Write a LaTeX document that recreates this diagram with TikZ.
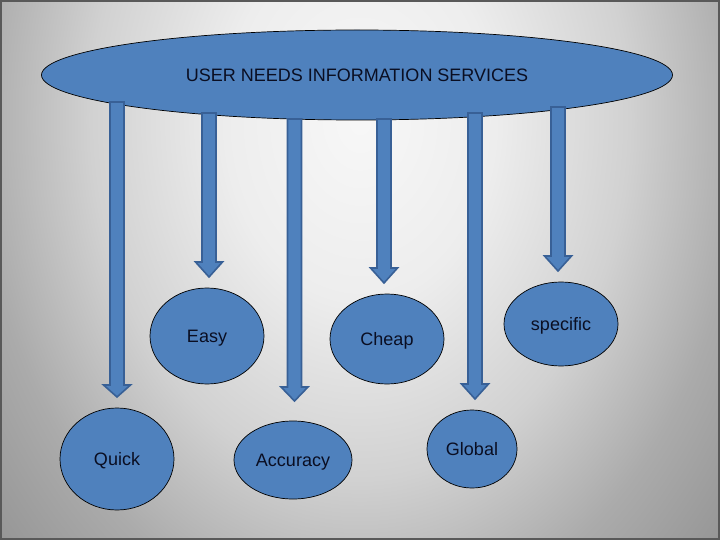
\documentclass[tikz,border=0pt]{standalone}
\usepackage{fontspec}
\setmainfont{Liberation Sans}
\usetikzlibrary{shapes.geometric}
\definecolor{boxblue}{RGB}{79,129,189}
\definecolor{edgeblue}{RGB}{56,96,150}
\definecolor{inktext}{RGB}{10,14,34}
\pgfdeclareradialshading{bgshade}{\pgfpoint{0bp}{0bp}}{%
  color(0bp)=(white!97!black);
  color(6.8bp)=(white!93!black);
  color(13.6bp)=(white!82!black);
  color(19.3bp)=(white!67!black);
  color(24.1bp)=(white!59!black);
  color(50bp)=(white!58!black)}
\tikzset{
  bubble/.style={ellipse, draw=black, line width=0.7pt, fill=boxblue,
    inner sep=0pt, text=inktext, font=\fontsize{18}{21}\selectfont,
    text height=12.9pt, text depth=0pt},
  arrowbox/.style={fill=boxblue, draw=edgeblue, line width=1.6pt, line join=miter}
}
\newcommand\barrow[4]{%
  \draw[arrowbox] (#1-7,#2) -- (#1+7,#2) -- (#1+7,#3) -- (#1+13.5,#3)
    -- (#1,#4) -- (#1-13.5,#3) -- (#1-7,#3) -- cycle;}
\begin{document}
\begin{tikzpicture}[x=1pt,y=-1pt]
\useasboundingbox (0,0) rectangle (720,540);
% background
\begin{scope}
  \clip (0,0) rectangle (720,540);
  \shade[shading=bgshade] (360,120) ellipse (495 and 660);
\end{scope}
\draw[line width=2pt, draw=white!35!black] (1,1) rectangle (719,539);
% title ellipse
\node[bubble, minimum width=631pt, minimum height=90pt] (top) at (357,75)
  {USER NEEDS INFORMATION SERVICES};
% arrows
\barrow{117}{102}{385}{397}
\barrow{209}{113}{262}{277}
\barrow{294.5}{119}{387}{401}
\barrow{384}{119}{268}{283}
\barrow{475}{113}{384}{399}
\barrow{558}{107}{256}{271}
% bubbles
\node[bubble, minimum width=114pt, minimum height=96pt] (easy) at (207,336) {Easy};
\node[bubble, minimum width=114pt, minimum height=102pt] (quick) at (117,459) {Quick};
\node[bubble, minimum width=118pt, minimum height=78pt] (accuracy) at (293,460) {Accuracy};
\node[bubble, minimum width=114pt, minimum height=90pt] (cheap) at (387,339) {Cheap};
\node[bubble, minimum width=114pt, minimum height=84pt] (specific) at (561,324) {specific};
\node[bubble, minimum width=90pt, minimum height=78pt] (global) at (472,449) {Global};
\end{tikzpicture}
\end{document}
